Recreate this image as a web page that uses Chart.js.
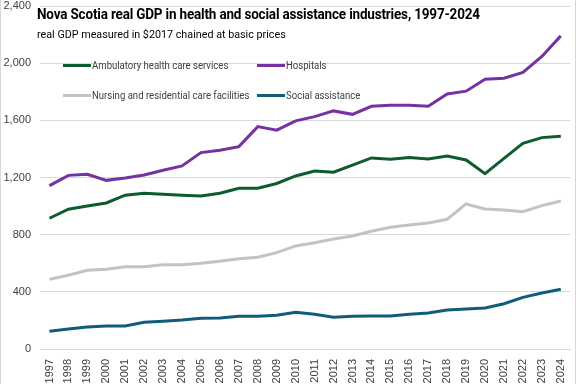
<!doctype html>
<html lang="en">
  <head>
    <meta charset="utf-8">
    <title>Nova Scotia real GDP in health and social assistance</title>
    <script src="https://cdn.jsdelivr.net/npm/chart.js"></script>
    <style>
        html, body { margin: 0; padding: 0; background: #fff; overflow: hidden; }
        #wrap { position: relative; width: 576px; height: 384px; }
        #wrap::after {
            content: ''; position: absolute; left: 0; top: 0; width: 574px; height: 384px;
            border-left: 1px solid #d9d9d9; border-right: 1px solid #d9d9d9; pointer-events: none;
        }
        #title {
            position: absolute; left: 37px; top: 5px;
            font: bold 15px Roboto, sans-serif; color: #000; white-space: nowrap;
            letter-spacing: -0.2px; transform: scaleX(0.9); transform-origin: left top;
        }
        #subtitle {
            position: absolute; left: 37px; top: 27px;
            font: 11.5px Roboto, sans-serif; color: #000; white-space: nowrap;
            transform: scaleX(0.935); transform-origin: left top;
        }
        .leg {
            position: absolute; font: 11px Roboto, sans-serif; color: #404040; white-space: nowrap;
            display: flex; align-items: center;
        }
        .leg span.line { display: inline-block; width: 28px; height: 3px; margin-right: 1px; }
        .leg span.txt { display: inline-block; transform: scaleX(0.87); transform-origin: left center; }
    </style>
  </head>
  <body>
    <div id="wrap">
        <canvas id="chart" width="576" height="384"></canvas>
        <div id="title">Nova Scotia real GDP in health and social assistance industries, 1997-2024</div>
        <div id="subtitle">real GDP measured in $2017 chained at basic prices</div>
        <div id="legend"></div>
    </div>

    <script>
        const Years = ['1997','1998','1999','2000','2001','2002','2003','2004','2005','2006','2007','2008','2009','2010',
            '2011','2012','2013','2014','2015','2016','2017','2018','2019','2020','2021','2022','2023','2024']

        const Ambulatory = [915, 978, 1001, 1022, 1076, 1090, 1083, 1076, 1071, 1090, 1125, 1125, 1158, 1211,
            1246, 1237, 1286, 1337, 1328, 1340, 1330, 1351, 1323, 1227, 1334, 1439, 1479, 1489]
        const Hospitals = [1143, 1215, 1222, 1180, 1197, 1218, 1251, 1281, 1374, 1390, 1416, 1556, 1531, 1596,
            1626, 1666, 1642, 1698, 1705, 1705, 1698, 1785, 1804, 1888, 1895, 1935, 2047, 2191]
        const Nursing = [488, 516, 551, 558, 576, 576, 590, 590, 600, 614, 632, 642, 674, 721,
            744, 770, 791, 824, 852, 868, 882, 908, 1015, 980, 973, 961, 1003, 1036]
        const Social = [124, 140, 154, 161, 161, 187, 194, 203, 215, 217, 229, 229, 236, 257,
            243, 222, 229, 231, 231, 243, 252, 273, 280, 287, 317, 361, 392, 418]

        const Series = [
            { label: 'Ambulatory health care services', data: Ambulatory, color: '#0d5c2f' },
            { label: 'Hospitals', data: Hospitals, color: '#7532a0' },
            { label: 'Nursing and residential care facilities', data: Nursing, color: '#c3c3c3' },
            { label: 'Social assistance', data: Social, color: '#115c7a' }
        ]

        // legend sits inside the plot, two per row
        const LegendSpots = [[63, 59], [257, 59], [63, 89], [257, 89]]
        document.getElementById('legend').innerHTML = Series.map((s, i) => `
            <div class="leg" style="left:${LegendSpots[i][0]}px; top:${LegendSpots[i][1]}px;">
                <span class="line" style="background:${s.color}"></span><span class="txt">${s.label}</span>
            </div>`).join('')

        new Chart(document.getElementById('chart'), {
            type: 'line',
            data: {
                labels: Years,
                datasets: Series.map((s) => ({
                    label: s.label,
                    data: s.data,
                    borderColor: s.color,
                    backgroundColor: s.color,
                    borderWidth: 3,
                    pointRadius: 0,
                    tension: 0
                }))
            },
            options: {
                responsive: false,
                animation: false,
                layout: { padding: 0 },
                plugins: {
                    legend: { display: false },
                    tooltip: { enabled: false }
                },
                scales: {
                    x: {
                        offset: true,
                        grid: { display: false },
                        border: { color: '#d9d9d9' },
                        ticks: {
                            minRotation: 90, maxRotation: 90, autoSkip: false,
                            color: '#404040', font: { family: 'Liberation Sans', size: 11 }, padding: 2
                        },
                        afterFit: (scale) => { scale.height = 35 }
                    },
                    y: {
                        min: 0, max: 2400,
                        grid: { color: '#d9d9d9', drawTicks: false },
                        border: { display: false },
                        ticks: {
                            stepSize: 400,
                            color: '#404040', font: { family: 'Liberation Sans', size: 11 }, padding: 9,
                            callback: (v) => v.toLocaleString('en-US')
                        },
                        afterFit: (scale) => {
                            scale.width = 40
                            // keep the top gridline close to the canvas edge like the original
                            scale.paddingTop = 6
                            scale.paddingBottom = 0
                        }
                    }
                }
            }
        })
    </script>
  </body>
</html>
